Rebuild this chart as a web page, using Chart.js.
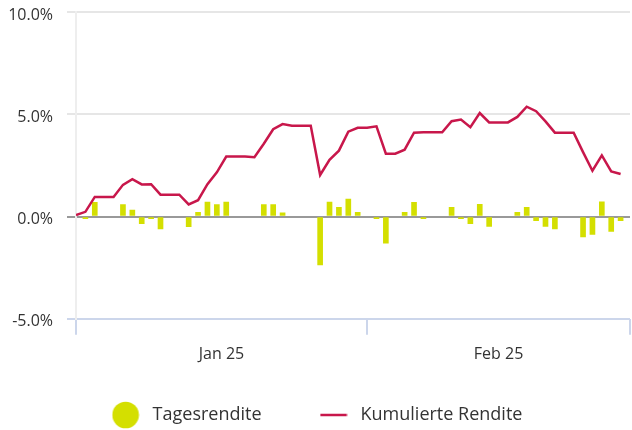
<!DOCTYPE html>
<html>
<head>
<meta charset="utf-8">
<script src="https://cdn.jsdelivr.net/npm/chart.js@4.4.1/dist/chart.umd.min.js"></script>
<style>
  html, body { margin: 0; padding: 0; background: #fff; }
</style>
</head>
<body>
<canvas id="chart" width="632" height="430"></canvas>
<script>
// x = Tag ab 01.01.2025 (0 = 1. Jan, 31 = 1. Feb, 59 = 1. Mär)
const monthLabels = ['Jan 25', 'Feb 25'];
const monthStarts = [0, 31, 59];
const yTicks = [-5, 0, 5, 10];

// Tagesrendite in % (null = kein Balken)
const tagesrendite = [
  null, -0.1, 0.7, null, null, 0.58, 0.31, -0.35, -0.1, -0.6,
  null, null, -0.5, 0.2, 0.71, 0.58, 0.71, null, null, null,
  0.58, 0.58, 0.18, null, null, null, -2.37, 0.71, 0.45, 0.85,
  0.2, null, -0.1, -1.3, null, 0.2, 0.7, -0.1, null, null,
  0.45, -0.1, -0.35, 0.6, -0.48, null, null, 0.2, 0.45, -0.2,
  -0.48, -0.6, null, null, -1.0, -0.87, 0.72, -0.73, -0.2
];

// Kumulierte Rendite in %
const kumuliert = [
  0.07, 0.23, 0.96, 0.96, 0.96, 1.55, 1.83, 1.57, 1.58, 1.07,
  1.07, 1.07, 0.59, 0.80, 1.58, 2.16, 2.93, 2.93, 2.93, 2.90,
  3.56, 4.27, 4.52, 4.44, 4.44, 4.44, 2.03, 2.77, 3.22, 4.15,
  4.34, 4.34, 4.41, 3.07, 3.07, 3.27, 4.10, 4.12, 4.12, 4.12,
  4.66, 4.74, 4.37, 5.06, 4.60, 4.60, 4.60, 4.87, 5.37, 5.15,
  4.65, 4.10, 4.10, 4.10, 3.15, 2.24, 2.99, 2.21, 2.08
];

const barColor = '#d4df00';
const lineColor = '#c8174b';
const textColor = '#333333';
const fontFamily = "'Open Sans', sans-serif";

// month label positions: middle of each month
const monthMids = monthLabels.map((m, i) => (monthStarts[i] + monthStarts[i + 1]) / 2);

// legend markers (bigger than Chart.js allows by default)
function makeMarker(draw) {
    const c = document.createElement('canvas');
    c.width = 28;
    c.height = 28;
    draw(c.getContext('2d'));
    return c;
}
const dotMarker = makeMarker(ctx => {
    ctx.fillStyle = barColor;
    ctx.beginPath();
    ctx.arc(14, 14, 13.3, 0, Math.PI * 2);
    ctx.fill();
});
const lineMarker = makeMarker(ctx => {
    ctx.strokeStyle = lineColor;
    ctx.lineWidth = 2.5;
    ctx.beginPath();
    ctx.moveTo(0.7, 14);
    ctx.lineTo(27.3, 14);
    ctx.stroke();
});

// put the legend row where the reference has it (center ~415px)
const legendShift = {
    id: 'legendShift',
    afterLayout(chart) {
        const lg = chart.legend;
        const labels = lg.options.labels;
        const h = lg.bottom - lg.top;
        lg.top = 415 - labels.padding - labels.font.size / 2;
        lg.bottom = lg.top + h;
    }
};

const ctx = document.getElementById('chart').getContext('2d');
new Chart(ctx, {
    type: 'bar',
    data: {
        datasets: [{
            type: 'bar',
            label: 'Tagesrendite',
            data: tagesrendite.map((v, i) => ({ x: i, y: v })),
            backgroundColor: barColor,
            barThickness: 5,
            order: 2
        }, {
            type: 'line',
            label: 'Kumulierte Rendite',
            data: kumuliert.map((v, i) => ({ x: i, y: v })),
            borderColor: lineColor,
            backgroundColor: lineColor,
            borderWidth: 2.5,
            pointRadius: 0,
            tension: 0,
            fill: false,
            order: 1
        }]
    },
    plugins: [legendShift],
    options: {
        responsive: false,
        animation: false,
        layout: {
            padding: { left: 0, right: 2, top: 0, bottom: -26 }
        },
        plugins: {
            tooltip: { enabled: false },
            legend: {
                position: 'bottom',
                labels: {
                    usePointStyle: true,
                    pointStyleWidth: 36,
                    padding: 54,
                    color: textColor,
                    font: { family: fontFamily, size: 18 },
                    sort: (a, b) => a.datasetIndex - b.datasetIndex,
                    generateLabels(chart) {
                        const items = Chart.defaults.plugins.legend.labels.generateLabels(chart);
                        items.forEach(it => {
                            it.pointStyle = it.datasetIndex === 0 ? dotMarker : lineMarker;
                        });
                        return items;
                    }
                }
            }
        },
        scales: {
            x: {
                type: 'linear',
                min: monthStarts[0],
                max: monthStarts[monthStarts.length - 1],
                offset: false,
                afterBuildTicks: scale => {
                    const vals = monthStarts.concat(monthMids).sort((a, b) => a - b);
                    scale.ticks = vals.map(v => ({ value: v }));
                },
                afterFit: scale => {
                    scale.paddingLeft = 0;
                    scale.paddingRight = 0;
                },
                grid: {
                    offset: false,
                    drawOnChartArea: false,
                    drawTicks: true,
                    tickLength: 16,
                    lineWidth: 2,
                    color: c => (c.tick && monthStarts.includes(c.tick.value)) ? '#ccd6eb' : 'rgba(0,0,0,0)'
                },
                border: { display: false },
                ticks: {
                    autoSkip: false,
                    maxRotation: 0,
                    padding: 10,
                    color: textColor,
                    font: { family: fontFamily, size: 16 },
                    callback: value => {
                        const i = monthMids.indexOf(value);
                        return i >= 0 ? monthLabels[i] : '';
                    }
                }
            },
            y: {
                min: yTicks[0],
                max: yTicks[yTicks.length - 1],
                afterBuildTicks: scale => {
                    scale.ticks = yTicks.map(v => ({ value: v }));
                },
                afterFit: scale => {
                    scale.width = 76;
                    scale.paddingTop = 12;
                    scale.paddingBottom = 0;
                },
                grid: {
                    drawTicks: true,
                    tickLength: 9,
                    lineWidth: 2,
                    color: c => {
                        if (!c.tick) return '#e6e6e6';
                        if (c.tick.value === 0) return '#999999';
                        if (c.tick.value === yTicks[0]) return '#ccd6eb';
                        return '#e6e6e6';
                    }
                },
                border: { display: true, color: '#eeeeee', width: 2 },
                ticks: {
                    padding: 14,
                    labelOffset: 3,
                    color: textColor,
                    font: { family: fontFamily, size: 16 },
                    callback: v => v.toFixed(1) + '%'
                }
            }
        }
    }
});
</script>
</body>
</html>
